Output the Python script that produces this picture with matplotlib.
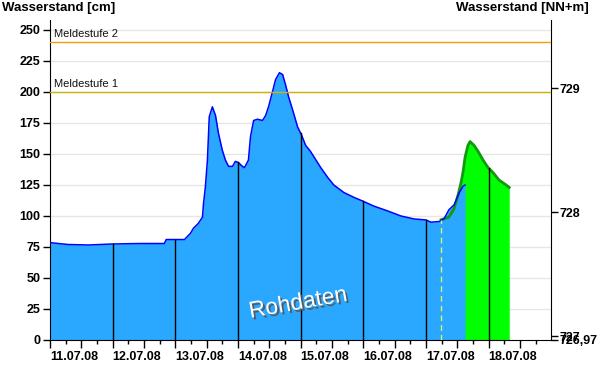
import matplotlib
matplotlib.use("Agg")
import matplotlib.pyplot as plt
import matplotlib.dates as mdates
import matplotlib.patheffects as pe
from matplotlib.ticker import FuncFormatter, MultipleLocator
import numpy as np
import pandas as pd

plt.rcParams['font.family'] = ['Liberation Sans', 'DejaVu Sans']

start = pd.Timestamp("2008-07-11")

# measured level (hours after 11.07.08 00:00, cm)
raw_hours = [0, 6.9, 14.6, 23.8, 34.6, 43.8, 44.5, 51.5, 53.8, 54.9, 56.8, 58.4,
             58.8, 59.5, 60.3, 61.0, 62.2, 63.4, 64.5, 66.0, 67.2, 68.4, 69.9,
             71.0, 72.2, 73.7, 74.5, 76.0, 76.8, 78.0, 79.5, 81.4, 82.6, 83.7,
             85.2, 86.4, 87.9, 89.1, 90.2, 91.4, 93.3, 94.8, 96.4, 97.9, 99.8,
             103.7, 106.4, 108.7, 112.5, 116.4, 119.8, 124.0, 129.4, 134.4,
             139.4, 144.0, 145.9, 149.0, 150.9, 152.8, 154.8, 156.7, 158.2, 159.0]
raw_cm = [78.5, 77, 76.6, 77.4, 77.8, 77.8, 81, 81, 86, 90, 94, 99,
          110, 123, 145, 180, 188, 181, 167, 153, 145, 140, 140,
          144, 143, 140, 139, 145, 164, 177, 178, 177, 181, 188,
          200, 210, 215.5, 214, 206, 196, 183, 172, 165, 157, 152,
          139, 131, 125, 119, 115, 112, 108, 104, 100,
          97.6, 96.8, 95, 95.5, 97.6, 105, 109, 118.5, 124, 125]

# forecast (hours, cm)
fc_hours = [149.8, 152.8, 154.8, 156.3, 157.4, 158.2, 159.0, 160.1, 160.9,
            162.4, 164.0, 165.9, 167.8, 169.7, 172.0, 174.7, 175.9]
fc_cm = [97, 99, 106, 117, 126.5, 135.5, 147.6, 157, 160,
         157, 152, 145, 139, 135, 129, 125, 123]

warn_levels = [200, 240]
warn_names = ["Meldestufe 1", "Meldestufe 2"]
gauge_zero = 726.97
right_ticks = [726.97, 727, 728, 729]

raw_t = start + pd.to_timedelta(raw_hours, unit="h")
fc_t = start + pd.to_timedelta(fc_hours, unit="h")

fig = plt.figure(figsize=(6, 3.85), dpi=100)
ax = fig.add_axes([50/600, 45/385, 501/600, 320/385])

ax.set_ylim(0, 258)
ax.set_xlim(start, start + pd.Timedelta(hours=191.9))

for y in np.arange(25, 251, 25):
    ax.axhline(y, color="#e6e6e6", lw=1, zorder=0)

ax.fill_between(fc_t, 0, fc_cm, color="#00ff00", lw=0, zorder=1)
ax.fill_between(raw_t, 0, raw_cm, color="#2aa8ff", lw=0, zorder=2)
ax.plot(fc_t, fc_cm, color="#119911", lw=2, zorder=3)
ax.plot(raw_t, raw_cm, color="#0000ff", lw=1.1, zorder=4)

# midnight markers up to the curve
raw_num = mdates.date2num(raw_t)
fc_num = mdates.date2num(fc_t)
for d in range(1, 8):
    t = mdates.date2num(start + pd.Timedelta(days=d))
    if t <= raw_num[-1]:
        v = np.interp(t, raw_num, raw_cm)
    else:
        v = np.interp(t, fc_num, fc_cm)
    ax.plot([t, t], [0, v], color="black", lw=1, zorder=5)

t0 = fc_num[0]
ax.plot([t0, t0], [0, fc_cm[0]], color="#dcf070", lw=1, ls=(0, (4, 3)), zorder=5)

for lvl, name, col in zip(warn_levels, warn_names, ["#d6b000", "#f0a000"]):
    ax.axhline(lvl, color=col, lw=1, zorder=6)
    ax.text(start + pd.Timedelta(hours=1.5), lvl + 2.5, name, fontsize=8,
            color="#111111", va="bottom", ha="left", zorder=7)

ax.text(mdates.date2num(start + pd.Timedelta(hours=95)), 30, "Rohdaten",
        fontsize=16.5, color="white", rotation=10, ha="center", va="center",
        zorder=8,
        path_effects=[pe.withSimplePatchShadow(offset=(1.5, -1.5),
                                               shadow_rgbFace="#555555", alpha=0.9)])

ax.yaxis.set_major_locator(MultipleLocator(25))
ax.xaxis.set_major_locator(mdates.HourLocator(byhour=[0, 12]))
ax.xaxis.set_minor_locator(mdates.HourLocator(byhour=[6, 18]))


def day_label(x, pos):
    d = mdates.num2date(x)
    return d.strftime("%d.%m.%y") if d.hour == 0 else ""


ax.xaxis.set_major_formatter(FuncFormatter(day_label))
ax.tick_params(axis="x", which="major", length=6, width=1, pad=2,
               labelsize=9)
ax.tick_params(axis="x", which="minor", length=3, width=1)
ax.tick_params(axis="y", length=5, width=1, labelsize=9, pad=2)
for lab in ax.get_xticklabels() + ax.get_yticklabels():
    lab.set_fontweight("bold")
plt.setp(ax.get_xticklabels(), ha="left")

ax.spines["top"].set_visible(False)
ax.spines["right"].set_visible(False)

sec = ax.secondary_yaxis("right", functions=(lambda c: gauge_zero + c / 100,
                                             lambda m: (m - gauge_zero) * 100))
sec.set_yticks(right_ticks)
sec.yaxis.set_major_formatter(FuncFormatter(
    lambda v, p: ("%.2f" % v).replace(".", ",") if abs(v - round(v)) > 1e-6 else "%d" % round(v)))
sec.tick_params(length=5, width=1, labelsize=9, pad=1)
for lab in sec.get_yticklabels():
    lab.set_fontweight("bold")

fig.text(2/600, 1 - 2/385, "Wasserstand [cm]", fontsize=9.5, fontweight="bold",
         ha="left", va="top")
fig.text(589/600, 1 - 2/385, "Wasserstand [NN+m]", fontsize=9.5,
         fontweight="bold", ha="right", va="top")

fig.savefig("out.png", dpi=100)
